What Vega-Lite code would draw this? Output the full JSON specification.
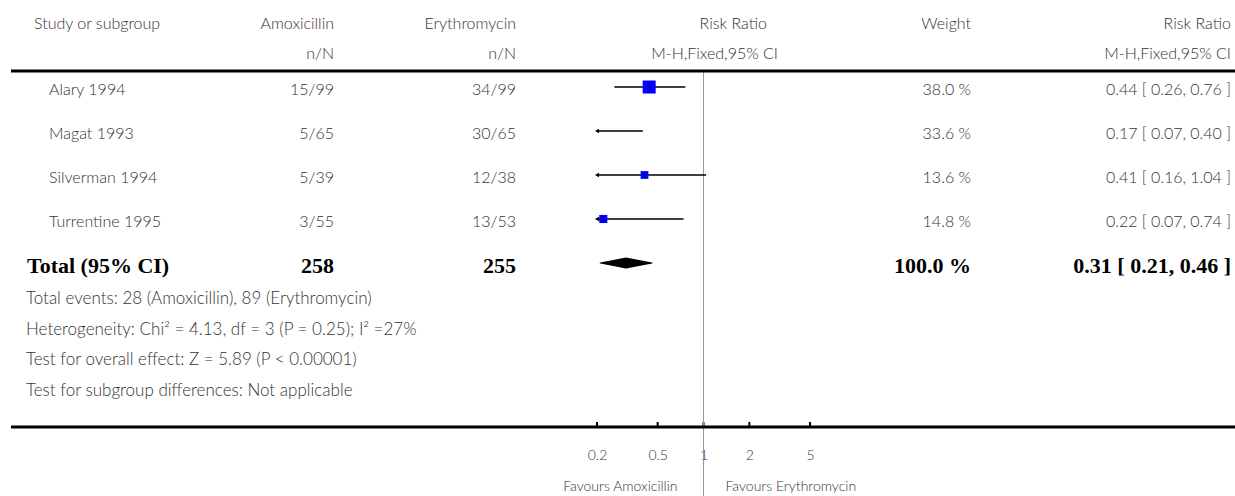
{
  "$schema": "https://vega.github.io/schema/vega-lite/v6.json",
  "width": 1235,
  "height": 428,
  "autosize": {"type": "none"},
  "padding": {"left": 0, "top": 0, "right": 0, "bottom": 68},
  "background": "white",
  "config": {
    "view": {"stroke": null},
    "text": {"font": "Lato", "fontSize": 16, "fontWeight": 300, "color": "#333333", "baseline": "middle"}
  },
  "datasets": {
    "studies": [
      {"study": "Alary 1994", "amox": "15/99", "ery": "34/99", "rr": 0.44, "lo": 0.26, "hi": 0.76, "weight": 38.0, "wt": "38.0 %", "ci": "0.44 [ 0.26, 0.76 ]"},
      {"study": "Magat 1993", "amox": "5/65", "ery": "30/65", "rr": 0.17, "lo": 0.07, "hi": 0.40, "weight": 33.6, "wt": "33.6 %", "ci": "0.17 [ 0.07, 0.40 ]"},
      {"study": "Silverman 1994", "amox": "5/39", "ery": "12/38", "rr": 0.41, "lo": 0.16, "hi": 1.04, "weight": 13.6, "wt": "13.6 %", "ci": "0.41 [ 0.16, 1.04 ]"},
      {"study": "Turrentine 1995", "amox": "3/55", "ery": "13/53", "rr": 0.22, "lo": 0.07, "hi": 0.74, "weight": 14.8, "wt": "14.8 %", "ci": "0.22 [ 0.07, 0.74 ]"}
    ],
    "total": [
      {"study": "Total (95% CI)", "amox": "258", "ery": "255", "wt": "100.0 %", "ci": "0.31 [ 0.21, 0.46 ]"}
    ],
    "diamond": [
      {"study": "Total (95% CI)", "rr": 0.21, "d": 0},
      {"study": "Total (95% CI)", "rr": 0.31, "d": 1},
      {"study": "Total (95% CI)", "rr": 0.46, "d": 0}
    ],
    "ticks": [{"v": 0.2}, {"v": 0.5}, {"v": 1}, {"v": 2}, {"v": 5}],
    "one": [{}]
  },
  "layer": [
    {
      "data": {"name": "ticks"},
      "mark": {"type": "rule", "color": "black", "strokeWidth": 2},
      "encoding": {
        "x": {"field": "v", "type": "quantitative",
              "scale": {"type": "log", "domain": [0.2, 5], "range": [597, 810], "clamp": true, "nice": false, "zero": false},
              "axis": {"values": [0.2, 0.5, 1, 2, 5], "format": "~g", "domain": false, "ticks": false, "grid": false, "title": null,
                       "labelFlush": false, "labelOverlap": false,
                       "labelFont": "Lato", "labelFontSize": 14, "labelFontWeight": 300, "labelColor": "#333333", "labelPadding": 20}},
        "y": {"value": 422},
        "y2": {"value": 427}
      }
    },
    {
      "data": {"name": "one"},
      "mark": {"type": "rule", "color": "#999999", "strokeWidth": 1},
      "encoding": {
        "x": {"datum": 1, "type": "quantitative"},
        "y": {"value": 72},
        "y2": {"value": 496}
      }
    },
    {
      "data": {"name": "one"},
      "mark": {"type": "rule", "color": "black", "strokeWidth": 3},
      "encoding": {"x": {"value": 11}, "x2": {"value": 1235}, "y": {"value": 71}}
    },
    {
      "data": {"name": "one"},
      "mark": {"type": "rule", "color": "black", "strokeWidth": 3},
      "encoding": {"x": {"value": 11}, "x2": {"value": 1235}, "y": {"value": 427}}
    },
    {
      "data": {"name": "studies"},
      "mark": {"type": "rule", "color": "black", "strokeWidth": 1.5},
      "encoding": {
        "x": {"field": "lo", "type": "quantitative"},
        "x2": {"field": "hi"},
        "y": {"field": "study", "type": "nominal", "sort": null,
              "scale": {"type": "point", "domain": ["Alary 1994", "Magat 1993", "Silverman 1994", "Turrentine 1995", "Total (95% CI)"], "range": [87, 263], "padding": 0},
              "axis": null}
      }
    },
    {
      "data": {"name": "studies"},
      "transform": [{"filter": "datum.lo < 0.2"}],
      "mark": {"type": "point", "shape": "triangle-left", "filled": true, "color": "black", "size": 22, "opacity": 1},
      "encoding": {
        "x": {"field": "lo", "type": "quantitative"},
        "y": {"field": "study", "type": "nominal", "axis": null}
      }
    },
    {
      "data": {"name": "studies"},
      "transform": [{"filter": "datum.rr >= 0.2"}],
      "mark": {"type": "square", "color": "#0000ff", "opacity": 1},
      "encoding": {
        "x": {"field": "rr", "type": "quantitative"},
        "y": {"field": "study", "type": "nominal", "axis": null},
        "size": {"field": "weight", "type": "quantitative", "scale": {"domain": [0, 38], "range": [0, 169]}, "legend": null}
      }
    },
    {
      "data": {"name": "studies"},
      "transform": [{"filter": "datum.rr >= 0.2"}],
      "mark": {"type": "tick", "orient": "vertical", "color": "black", "size": 6, "thickness": 1},
      "encoding": {
        "x": {"field": "rr", "type": "quantitative"},
        "y": {"field": "study", "type": "nominal", "axis": null}
      }
    },
    {
      "data": {"name": "diamond"},
      "mark": {"type": "trail", "color": "black"},
      "encoding": {
        "x": {"field": "rr", "type": "quantitative"},
        "y": {"field": "study", "type": "nominal", "axis": null},
        "order": {"field": "rr"},
        "size": {"field": "d", "type": "quantitative", "scale": {"domain": [0, 1], "range": [0, 11]}, "legend": null}
      }
    },
    {
      "data": {"name": "studies"},
      "mark": {"type": "text", "align": "left", "dy": 3},
      "encoding": {"x": {"value": 49}, "y": {"field": "study", "type": "nominal", "axis": null}, "text": {"field": "study"}}
    },
    {
      "data": {"name": "studies"},
      "mark": {"type": "text", "align": "right", "dy": 3},
      "encoding": {"x": {"value": 334}, "y": {"field": "study", "type": "nominal", "axis": null}, "text": {"field": "amox"}}
    },
    {
      "data": {"name": "studies"},
      "mark": {"type": "text", "align": "right", "dy": 3},
      "encoding": {"x": {"value": 516}, "y": {"field": "study", "type": "nominal", "axis": null}, "text": {"field": "ery"}}
    },
    {
      "data": {"name": "studies"},
      "mark": {"type": "text", "align": "right", "dy": 3},
      "encoding": {"x": {"value": 971}, "y": {"field": "study", "type": "nominal", "axis": null}, "text": {"field": "wt"}}
    },
    {
      "data": {"name": "studies"},
      "mark": {"type": "text", "align": "right", "dy": 3},
      "encoding": {"x": {"value": 1231}, "y": {"field": "study", "type": "nominal", "axis": null}, "text": {"field": "ci"}}
    },
    {
      "data": {"name": "total"},
      "mark": {"type": "text", "align": "left", "dy": 3, "font": "Liberation Serif", "fontWeight": "bold", "fontSize": 22, "color": "black"},
      "encoding": {"x": {"value": 27}, "y": {"field": "study", "type": "nominal", "axis": null}, "text": {"field": "study"}}
    },
    {
      "data": {"name": "total"},
      "mark": {"type": "text", "align": "right", "dy": 3, "font": "Liberation Serif", "fontWeight": "bold", "fontSize": 22, "color": "black"},
      "encoding": {"x": {"value": 334}, "y": {"field": "study", "type": "nominal", "axis": null}, "text": {"field": "amox"}}
    },
    {
      "data": {"name": "total"},
      "mark": {"type": "text", "align": "right", "dy": 3, "font": "Liberation Serif", "fontWeight": "bold", "fontSize": 22, "color": "black"},
      "encoding": {"x": {"value": 516}, "y": {"field": "study", "type": "nominal", "axis": null}, "text": {"field": "ery"}}
    },
    {
      "data": {"name": "total"},
      "mark": {"type": "text", "align": "right", "dy": 3, "font": "Liberation Serif", "fontWeight": "bold", "fontSize": 22, "color": "black"},
      "encoding": {"x": {"value": 971}, "y": {"field": "study", "type": "nominal", "axis": null}, "text": {"field": "wt"}}
    },
    {
      "data": {"name": "total"},
      "mark": {"type": "text", "align": "right", "dy": 3, "font": "Liberation Serif", "fontWeight": "bold", "fontSize": 22, "color": "black"},
      "encoding": {"x": {"value": 1231}, "y": {"field": "study", "type": "nominal", "axis": null}, "text": {"field": "ci"}}
    },
    {
      "data": {"name": "one"},
      "mark": {"type": "text", "align": "left"},
      "encoding": {"x": {"value": 34}, "y": {"value": 24}, "text": {"value": "Study or subgroup"}}
    },
    {
      "data": {"name": "one"},
      "mark": {"type": "text", "align": "right"},
      "encoding": {"x": {"value": 334}, "y": {"value": 24}, "text": {"value": "Amoxicillin"}}
    },
    {
      "data": {"name": "one"},
      "mark": {"type": "text", "align": "right"},
      "encoding": {"x": {"value": 334}, "y": {"value": 54}, "text": {"value": "n/N"}}
    },
    {
      "data": {"name": "one"},
      "mark": {"type": "text", "align": "right"},
      "encoding": {"x": {"value": 516}, "y": {"value": 24}, "text": {"value": "Erythromycin"}}
    },
    {
      "data": {"name": "one"},
      "mark": {"type": "text", "align": "right"},
      "encoding": {"x": {"value": 516}, "y": {"value": 54}, "text": {"value": "n/N"}}
    },
    {
      "data": {"name": "one"},
      "mark": {"type": "text", "align": "right"},
      "encoding": {"x": {"value": 767}, "y": {"value": 24}, "text": {"value": "Risk Ratio"}}
    },
    {
      "data": {"name": "one"},
      "mark": {"type": "text", "align": "right"},
      "encoding": {"x": {"value": 778}, "y": {"value": 54}, "text": {"value": "M-H,Fixed,95% CI"}}
    },
    {
      "data": {"name": "one"},
      "mark": {"type": "text", "align": "right"},
      "encoding": {"x": {"value": 971}, "y": {"value": 24}, "text": {"value": "Weight"}}
    },
    {
      "data": {"name": "one"},
      "mark": {"type": "text", "align": "right"},
      "encoding": {"x": {"value": 1231}, "y": {"value": 24}, "text": {"value": "Risk Ratio"}}
    },
    {
      "data": {"name": "one"},
      "mark": {"type": "text", "align": "right"},
      "encoding": {"x": {"value": 1231}, "y": {"value": 54}, "text": {"value": "M-H,Fixed,95% CI"}}
    },
    {
      "data": {"name": "one"},
      "mark": {"type": "text", "align": "left", "baseline": "top", "lineHeight": 30.5, "fontSize": 17},
      "encoding": {
        "x": {"value": 26},
        "y": {"value": 291},
        "text": {"value": ["Total events: 28 (Amoxicillin), 89 (Erythromycin)", "Heterogeneity: Chi² = 4.13, df = 3 (P = 0.25); I² =27%", "Test for overall effect: Z = 5.89 (P < 0.00001)", "Test for subgroup differences: Not applicable"]}
      }
    },
    {
      "data": {"name": "one"},
      "mark": {"type": "text", "align": "right", "fontSize": 14, "dx": -26},
      "encoding": {"x": {"datum": 1, "type": "quantitative"}, "y": {"value": 487}, "text": {"value": "Favours Amoxicillin"}}
    },
    {
      "data": {"name": "one"},
      "mark": {"type": "text", "align": "left", "fontSize": 14, "dx": 22},
      "encoding": {"x": {"datum": 1, "type": "quantitative"}, "y": {"value": 487}, "text": {"value": "Favours Erythromycin"}}
    }
  ],
  "resolve": {"scale": {"size": "independent"}}
}
